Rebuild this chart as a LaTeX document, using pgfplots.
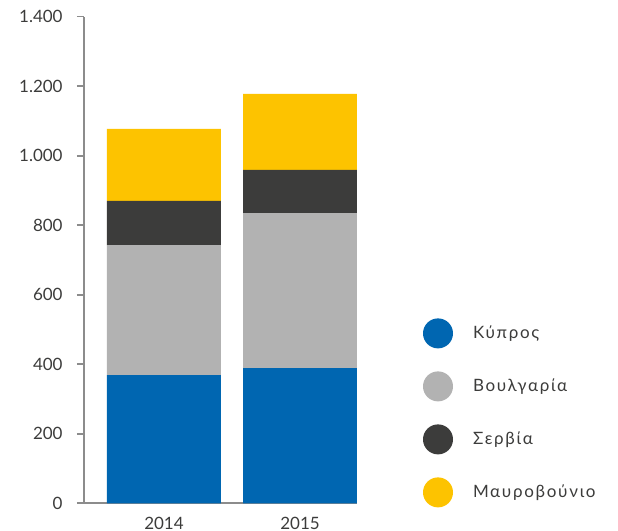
\documentclass[border=0pt]{standalone}
\usepackage{pgfplots}
\pgfplotsset{compat=1.18}
\usepackage{fontspec}
\setmainfont{Lato}
\newfontfamily\legfont{Lato}[LetterSpace=10]
\definecolor{cyp}{HTML}{0066B1}
\definecolor{bul}{HTML}{B2B2B2}
\definecolor{ser}{HTML}{3C3C3B}
\definecolor{mon}{HTML}{FDC300}
\definecolor{txt}{HTML}{3C3C3B}
\definecolor{axl}{HTML}{8C8C8C}
\begin{document}
\begin{tikzpicture}[x=1pt,y=1pt]
\useasboundingbox (-42,-13.85) rectangle (267,251.65);
\begin{axis}[
  at={(0,0)}, anchor=south west,
  scale only axis, width=136.5pt, height=243.3pt,
  ybar stacked, bar width=57pt,
  xmin=-0.588, xmax=1.419, ymin=0, ymax=1400,
  xtick={0,1}, xticklabels={2014,2015},
  ytick={0,200,...,1400},
  scaled y ticks=false,
  /pgf/number format/1000 sep={.},
  /pgf/number format/assume math mode=true,
  axis x line*=bottom, axis y line*=left,
  axis line style={axl, line width=0.8pt, -},
  xtick style={draw=none},
  ytick style={axl, line width=0.8pt},
  tick align=outside, major tick length=3.5pt,
  every tick label/.append style={font=\fontsize{8.5}{10}\selectfont, text=txt},
  yticklabel style={inner sep=0pt, xshift=-7pt},
  xticklabel style={inner sep=0pt, yshift=-3pt},
  every axis plot/.append style={draw=none,
    legend image code/.code={\fill[##1, draw=none] (7.5pt,0pt) circle (7.5pt);
      \path[draw=none, fill=none] (0pt,0pt) rectangle (25pt,0.1pt);}},
  legend style={draw=none, fill=none, inner sep=0pt, outer sep=0pt,
    at={(1.2418,0.38)}, anchor=north west,
    font=\legfont\fontsize{8.5}{10}\selectfont, text=txt,
    row sep=11.5pt,
    nodes={inner sep=0pt, anchor=west}},
  legend cell align=left,
]
\addplot[fill=cyp] coordinates {(0,369) (1,389)};
\addplot[fill=bul] coordinates {(0,374) (1,446)};
\addplot[fill=ser] coordinates {(0,127) (1,124)};
\addplot[fill=mon] coordinates {(0,207) (1,219)};
\legend{Κύπρος, Βουλγαρία, Σερβία, Μαυροβούνιο}
\end{axis}
\end{tikzpicture}
\end{document}
